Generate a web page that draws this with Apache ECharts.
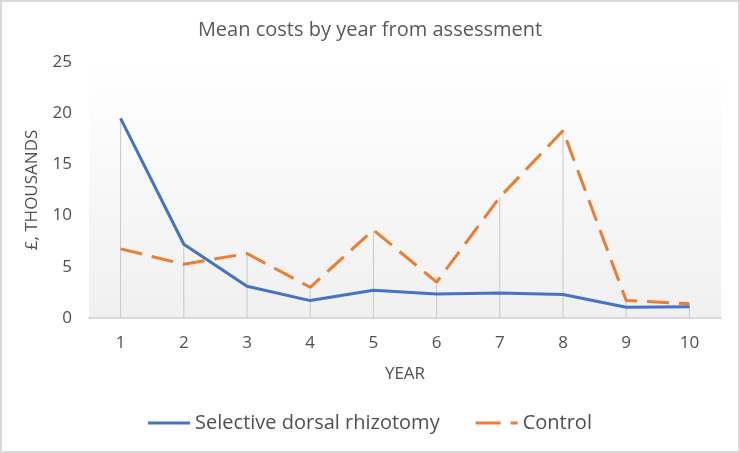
<!DOCTYPE html>
<html>
<head>
<meta charset="utf-8">
<script src="https://cdn.jsdelivr.net/npm/echarts@6/dist/echarts.min.js"></script>
<style>
html,body{margin:0;padding:0;background:#fff;}
#chart{width:740px;height:453px;}
</style>
</head>
<body>
<div id="chart"></div>
<script>
const years = ['1','2','3','4','5','6','7','8','9','10'];
const sdrCosts = [19.5, 7.2, 3.1, 1.7, 2.7, 2.35, 2.45, 2.3, 1.05, 1.1];
const controlCosts = [6.75, 5.25, 6.3, 3.0, 8.6, 3.5, 11.8, 18.3, 1.7, 1.4];
const yTicks = [0, 5, 10, 15, 20, 25];

const dropHeights = years.map((_, i) => Math.max(sdrCosts[i], controlCosts[i]));
const FONT = '"Open Sans", "Noto Sans", sans-serif';

const chart = echarts.init(document.getElementById('chart'), null, {renderer: 'canvas'});
chart.setOption({
  animation: false,
  backgroundColor: '#ffffff',
  textStyle: {fontFamily: FONT},
  title: {
    text: 'Mean costs by year from assessment',
    left: 'center',
    top: 15,
    textStyle: {fontFamily: FONT, fontSize: 20, fontWeight: 'normal', color: '#595959'}
  },
  graphic: [{
    type: 'rect',
    shape: {x: 1, y: 1, width: 738, height: 451},
    style: {fill: 'none', stroke: '#d9d9d9', lineWidth: 2},
    silent: true
  }],
  legend: {
    bottom: 15,
    left: 'center',
    itemWidth: 42,
    itemHeight: 3,
    itemGap: 36,
    textStyle: {fontFamily: FONT, fontSize: 20, color: '#505050', padding: [0, 0, 0, 0]},
    data: [
      {name: 'Selective dorsal rhizotomy', icon: 'path://M0,0H42V3H0Z'},
      {name: 'Control', icon: 'path://M0,0H25V3H0Z M35,0H42V3H35Z'}
    ]
  },
  grid: {
    left: 89, right: 19, top: 62, bottom: 135,
    show: true,
    borderWidth: 0,
    backgroundColor: {
      type: 'linear', x: 0, y: 0, x2: 0, y2: 1,
      colorStops: [{offset: 0, color: '#ffffff'}, {offset: 1, color: '#f0f0f0'}]
    }
  },
  xAxis: {
    type: 'category',
    data: years,
    boundaryGap: true,
    name: 'YEAR',
    nameLocation: 'middle',
    nameGap: 48,
    nameTextStyle: {fontFamily: FONT, fontSize: 17, color: '#505050'},
    axisLine: {lineStyle: {color: '#d9d9d9', width: 2}},
    axisTick: {show: false},
    axisLabel: {fontFamily: FONT, fontSize: 17, color: '#505050', margin: 17},
    splitLine: {show: false}
  },
  yAxis: {
    type: 'value',
    min: yTicks[0],
    max: yTicks[yTicks.length - 1],
    interval: 5,
    name: '£, THOUSANDS',
    nameLocation: 'middle',
    nameGap: 48,
    nameTextStyle: {fontFamily: FONT, fontSize: 17, color: '#505050'},
    axisLine: {show: false},
    axisTick: {show: false},
    axisLabel: {fontFamily: FONT, fontSize: 17, color: '#505050', margin: 17},
    splitLine: {show: false}
  },
  series: [
    {
      name: 'drop',
      type: 'bar',
      data: dropHeights,
      barWidth: 1,
      itemStyle: {color: '#c8c8c8'},
      silent: true,
      z: 1
    },
    {
      name: 'Selective dorsal rhizotomy',
      type: 'line',
      data: sdrCosts,
      symbol: 'none',
      lineStyle: {color: '#4472C4', width: 3},
      itemStyle: {color: '#4472C4'},
      z: 3
    },
    {
      name: 'Control',
      type: 'line',
      data: controlCosts,
      symbol: 'none',
      lineStyle: {color: '#ED7D31', width: 3, type: [22, 10]},
      itemStyle: {color: '#ED7D31'},
      z: 4
    }
  ]
});
</script>
</body>
</html>
